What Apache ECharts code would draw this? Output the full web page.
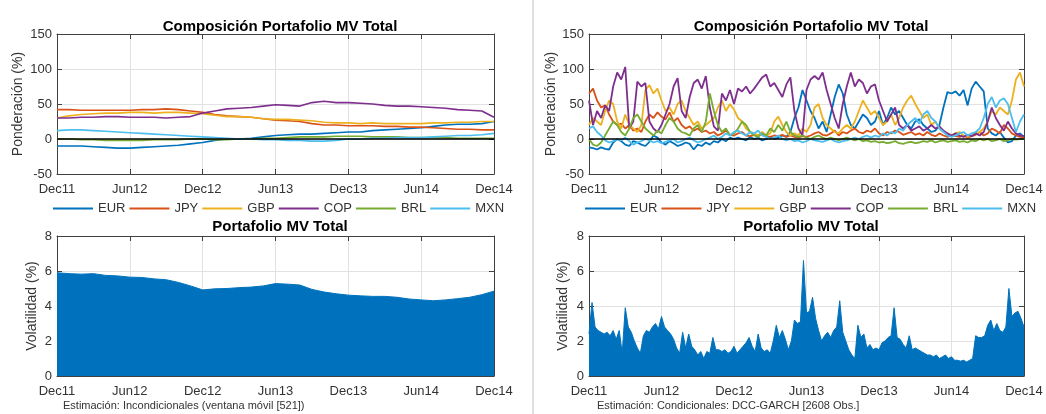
<!DOCTYPE html>
<html>
<head>
<meta charset="utf-8">
<script src="https://cdn.jsdelivr.net/npm/echarts@6/dist/echarts.min.js"></script>
<style>
html,body{margin:0;padding:0;background:#fff;}
#c{width:1046px;height:414px;}
</style>
</head>
<body>
<div id="c"></div>
<script>
// ---------- tick labels / categories ----------
const xTickLabels = ['Dec11','Jun12','Dec12','Jun13','Dec13','Jun14','Dec14'];
const seriesNames = ['EUR','JPY','GBP','COP','BRL','MXN'];
const seriesColors = ['#0072BD','#D95319','#EDB120','#7E2F8E','#77AC30','#4DBEEE'];

// ---------- Top-left: unconditional weights (monthly, Dec11..Dec14) ----------
const tlEUR = [-10,-10,-10,-11,-12,-13,-13,-12,-11,-10,-9,-7,-5,-2,0,0,1,3,5,6,7,7,8,9,10,10,12,13,14,15,16,18,20,21,21,22,25];
const tlJPY = [42,42,41,41,41,41,41,42,42,43,42,40,38,35,33,32,31,29,27,26,25,22,20,20,19,19,19,18,18,17,17,16,15,14,14,13,13];
const tlGBP = [30,33,35,36,37,37,38,38,37,38,38,37,36,34,32,32,31,29,28,28,27,26,24,23,23,22,23,22,22,22,22,23,23,24,24,25,25];
const tlCOP = [30,30,31,31,32,32,31,31,31,30,31,32,37,40,43,44,45,47,49,48,47,52,54,52,52,51,50,48,47,47,46,45,44,42,41,40,31];
const tlBRL = [0,0,-1,-1,-2,-2,-2,-2,-1,-1,-1,0,0,-1,-1,0,0,1,1,2,3,3,3,4,4,4,3,3,3,2,2,2,2,1,1,1,1];
const tlMXN = [12,13,13,12,11,10,9,8,7,6,5,4,3,2,1,0,0,-1,-1,-2,-2,-3,-3,-2,0,0,1,1,2,2,2,3,4,5,5,6,8];

// ---------- Top-right: DCC-GARCH weights (every 1/3 month) ----------
const trEUR = [-12,-13,-15,-12,-14,-15,-5,0,-3,-8, -10,-3,-5,-8,-10,-4,5,2,-5,-8, -3,-6,-10,-8,-5,-7,-15,-8,-10,-5, -8,-3,-5,0,-3,2,0,2,0,-2, 3,0,2,-2,0,3,0,2,5,3, 10,30,45,70,55,40,30,15,25,10, 35,60,78,65,35,20,15,25,35,30, 20,25,40,20,30,45,35,40,30,20, 15,25,28,20,15,10,12,20,45,67, 65,68,62,70,48,72,82,75,68,15, 8,5,10,2,-5,-3,5,8,3];
const trJPY = [65,72,55,45,48,35,25,20,22,15, 20,12,15,10,25,35,30,38,32,28, 38,25,30,20,15,18,12,15,10,12, 8,10,5,8,12,6,5,8,10,5, 4,6,5,8,4,3,5,4,6,3, 5,3,2,4,3,5,8,10,6,5, 8,12,5,10,8,12,15,10,8,12, 10,15,8,5,10,8,12,10,6,8, 10,6,8,5,10,6,4,8,5,3, 5,4,3,5,2,4,6,10,5,8, 15,12,8,20,15,8,5,3,2];
const trGBP = [20,30,25,20,40,55,50,25,15,35, 20,15,10,20,70,77,65,72,55,40, 45,35,50,55,40,30,20,25,15,20, 25,30,45,55,40,50,42,30,25,15, 10,8,5,10,5,8,25,32,20,10, 5,8,5,15,10,20,45,50,30,20, 15,10,8,15,20,15,25,40,55,45, 35,40,30,20,25,35,20,30,45,55, 62,50,40,30,35,20,25,15,10,8, 5,8,10,5,3,5,8,10,15,25, 40,35,45,40,35,55,85,95,75];
const trCOP = [55,20,40,30,48,40,75,95,85,103, 15,25,82,75,80,25,15,10,20,35, 50,75,87,40,30,60,80,85,72,90, 45,18,12,65,55,70,50,72,68,75, 65,72,80,88,92,75,80,70,60,78, 88,40,15,5,70,85,90,85,95,70, 50,30,15,50,75,95,75,85,80,65, 75,78,55,40,25,35,45,20,15,20, 12,15,18,12,15,20,15,18,12,8, 5,8,5,3,6,4,8,5,10,25, 45,30,20,12,25,15,8,5,4];
const trBRL = [0,-8,-10,-5,5,15,25,20,10,5, 15,30,35,25,15,10,5,12,8,20, 30,25,15,10,8,5,15,20,10,25, 65,40,20,10,15,5,8,15,25,20, 10,5,3,8,5,15,10,20,12,25, 10,5,3,5,2,0,3,5,2,0, 2,0,-2,0,2,0,-2,0,-3,-2, -4,-3,-5,-4,-6,-5,-3,-6,-7,-5, -4,-6,-5,-3,-4,-2,-5,-3,-2,-4, -3,-2,-4,-3,-5,-2,-3,0,-2,0, -3,-2,0,-3,-2,0,-1,0,0];
const trMXN = [15,18,10,5,-2,-5,-3,0,-2,2, -3,-8,-5,-3,0,-2,-5,-3,-6,-4, -2,0,-5,-3,0,2,-2,-5,-3,0, 2,5,0,3,8,5,10,12,8,5, 10,8,12,5,3,0,2,5,0,-2, 0,-3,-2,-5,-3,0,-2,-3,-4,-2, 0,-3,-5,-3,-2,0,2,0,3,5, 2,5,3,8,5,10,8,15,12,20, 25,30,22,35,40,30,25,15,10,5, 3,5,8,10,5,8,10,15,30,50, 60,45,55,58,50,30,10,25,35];

// ---------- Bottom-left: unconditional volatility (monthly) ----------
const blVol = [5.90,5.85,5.82,5.85,5.75,5.72,5.65,5.63,5.55,5.50,5.35,5.15,4.92,4.98,5.00,5.05,5.08,5.15,5.28,5.25,5.20,4.95,4.80,4.70,4.62,4.58,4.55,4.55,4.50,4.40,4.35,4.30,4.35,4.42,4.50,4.65,4.85];

// ---------- Bottom-right: DCC-GARCH volatility (every 1/4 month) ----------
const brVol = [2.4,4.2,2.8,2.6,2.5,2.4,2.5,2.3,2.6,2.1, 2.6,1.3,3.9,2.8,2.5,2.0,1.6,1.3,2.3,2.6, 2.5,2.8,3.0,2.7,3.4,2.8,2.6,2.4,2.1,1.6, 1.3,2.5,1.6,2.4,1.7,1.5,1.2,1.4,1.0,1.4, 1.3,2.2,1.5,1.5,1.4,1.5,1.3,1.4,1.7,1.3, 1.5,1.7,1.9,2.2,1.7,1.4,2.4,1.6,1.4,1.5, 1.3,2.0,2.9,2.2,2.6,2.1,1.5,2.0,3.2,3.0, 3.1,6.6,3.6,3.7,4.5,3.3,2.6,2.0,2.3,2.5, 2.2,2.6,2.8,4.3,2.5,2.0,1.5,1.2,1.0,2.9, 2.2,2.4,1.6,1.8,1.5,1.6,1.5,1.9,2.0,2.2, 2.3,3.9,2.2,2.1,1.8,1.6,2.3,1.5,1.6,1.5, 1.4,1.3,1.2,1.2,1.1,1.2,1.0,1.1,1.2,1.0, 1.1,0.9,0.9,0.85,0.9,0.8,0.9,1.0,2.3,2.2, 2.2,2.3,2.9,3.2,2.6,3.0,2.6,2.5,2.8,5.0, 3.4,3.6,3.7,3.3,2.8];

// ---------- build ----------
const FONT = '"Liberation Sans", Arial, sans-serif';
const AX = '#404040', GRID = '#e2e2e2', TXT = '#333333';

function pairs(arr, step) { return arr.map((v, i) => [i * step, v]); }

const grids = [
  {left:57,  top:34,  width:437, height:140},
  {left:589, top:34,  width:435, height:140},
  {left:57,  top:236, width:437, height:140},
  {left:589, top:236, width:435, height:140}
];
const yCfg = [
  {min:-50, max:150, interval:50, name:'Ponderación (%)', gap:32},
  {min:-50, max:150, interval:50, name:'Ponderación (%)', gap:30},
  {min:0, max:8, interval:2, name:'Volatilidad (%)', gap:18},
  {min:0, max:8, interval:2, name:'Volatilidad (%)', gap:19}
];

const xAxis = [], yAxis = [];
grids.forEach((g, gi) => {
  xAxis.push({
    type:'value', gridIndex:gi, min:0, max:36, interval:6, position:'bottom',
    axisLine:{show:true, onZero:false, lineStyle:{color:AX, width:1}},
    axisTick:{show:true, inside:true, length:5, lineStyle:{color:AX}},
    axisLabel:{show:true, margin:9, color:TXT, fontSize:13, fontFamily:FONT,
      showMinLabel:true, showMaxLabel:true,
      formatter: v => xTickLabels[Math.round(v/6)]},
    splitLine:{show:true, lineStyle:{color:GRID, width:1}}
  });
  xAxis.push({
    type:'value', gridIndex:gi, min:0, max:36, interval:6, position:'top',
    axisLine:{show:true, onZero:false, lineStyle:{color:AX, width:1}},
    axisTick:{show:true, inside:true, length:5, lineStyle:{color:AX}},
    axisLabel:{show:false}, splitLine:{show:false}
  });
  const c = yCfg[gi];
  yAxis.push({
    type:'value', gridIndex:gi, min:c.min, max:c.max, interval:c.interval, position:'left',
    name:c.name, nameLocation:'middle', nameGap:c.gap,
    nameTextStyle:{color:TXT, fontSize:14, fontFamily:FONT},
    axisLine:{show:true, onZero:false, lineStyle:{color:AX, width:1}},
    axisTick:{show:true, inside:true, length:5, lineStyle:{color:AX}},
    axisLabel:{show:true, margin:5, color:TXT, fontSize:13, fontFamily:FONT},
    splitLine:{show:true, lineStyle:{color:GRID, width:1}}
  });
  yAxis.push({
    type:'value', gridIndex:gi, min:c.min, max:c.max, interval:c.interval, position:'right',
    axisLine:{show:true, onZero:false, lineStyle:{color:AX, width:1}},
    axisTick:{show:true, inside:true, length:5, lineStyle:{color:AX}},
    axisLabel:{show:false}, splitLine:{show:false}
  });
});

const series = [];
const tl = [tlEUR, tlJPY, tlGBP, tlCOP, tlBRL, tlMXN];
const tr = [trEUR, trJPY, trGBP, trCOP, trBRL, trMXN];
const zeroLine = {silent:true, symbol:'none', label:{show:false},
  lineStyle:{color:'#000', type:'solid', width:1.6}, data:[{yAxis:0}]};
tl.forEach((arr, k) => {
  const s = {name:seriesNames[k], type:'line', xAxisIndex:0, yAxisIndex:0,
    data:pairs(arr, 1), symbol:'none', smooth:false,
    lineStyle:{color:seriesColors[k], width:1.6}, itemStyle:{color:seriesColors[k]}};
  if (k === 5) s.markLine = zeroLine;
  series.push(s);
});
tr.forEach((arr, k) => {
  const s = {name:seriesNames[k], type:'line', xAxisIndex:2, yAxisIndex:2,
    data:pairs(arr, 1/3), symbol:'none',
    lineStyle:{color:seriesColors[k], width:1.8}, itemStyle:{color:seriesColors[k]}};
  if (k === 5) s.markLine = zeroLine;
  series.push(s);
});
series.push({name:'VolInc', type:'line', xAxisIndex:4, yAxisIndex:4, data:pairs(blVol, 1),
  symbol:'none', lineStyle:{color:'#0072BD', width:1}, areaStyle:{color:'#0072BD', opacity:1}});
series.push({name:'VolDCC', type:'line', xAxisIndex:6, yAxisIndex:6, data:pairs(brVol, 1/4),
  symbol:'none', lineStyle:{color:'#0072BD', width:1}, areaStyle:{color:'#0072BD', opacity:1}});

const titleStyle = {color:'#000', fontSize:15, fontWeight:'bold', fontFamily:FONT};
const legendBase = {orient:'horizontal', top:197, icon:'rect', itemWidth:40, itemHeight:2, itemGap:4,
  data:seriesNames, textStyle:{color:TXT, fontSize:13, fontFamily:FONT}, selectedMode:false};

const option = {
  backgroundColor:'#ffffff',
  animation:false,
  grid:grids,
  xAxis:xAxis, yAxis:yAxis,
  title:[
    {text:'Composición Portafolio MV Total', left:275, top:14, textAlign:'center', textStyle:titleStyle},
    {text:'Composición Portafolio MV Total', left:806, top:14, textAlign:'center', textStyle:titleStyle},
    {text:'Portafolio MV Total', left:275, top:214, textAlign:'center', textStyle:titleStyle},
    {text:'Portafolio MV Total', left:806, top:214, textAlign:'center', textStyle:titleStyle}
  ],
  legend:[
    Object.assign({left:48}, legendBase),
    Object.assign({left:580}, legendBase)
  ],
  graphic:[
    {type:'line', shape:{x1:533, y1:0, x2:533, y2:414}, style:{stroke:'#d6d6d6', lineWidth:1.5}, silent:true},
    {type:'text', left:63, top:400, style:{text:'Estimación: Incondicionales (ventana móvil [521])', fill:TXT, fontSize:11, fontFamily:FONT}},
    {type:'text', left:597, top:400, style:{text:'Estimación: Condicionales: DCC-GARCH [2608 Obs.]', fill:TXT, fontSize:11, fontFamily:FONT}}
  ],
  series:series
};

const chart = echarts.init(document.getElementById('c'), null, {renderer:'canvas'});
chart.setOption(option);
</script>
</body>
</html>
